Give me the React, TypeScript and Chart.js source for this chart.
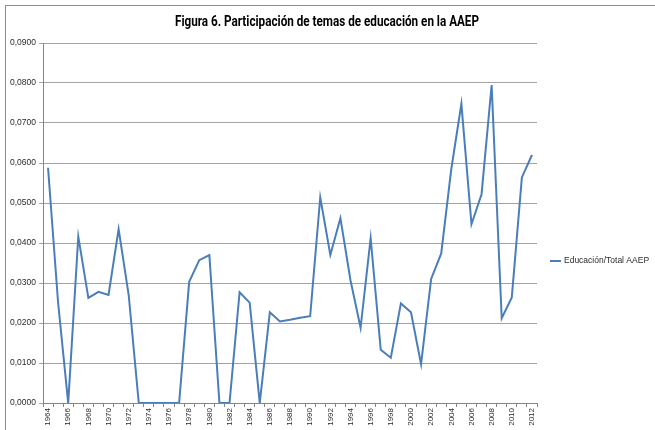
import React, { useEffect, useRef } from 'react';
import { Chart, registerables } from 'chart.js';

Chart.register(...registerables);

const TITLE = 'Figura 6. Participación de temas de educación en la AAEP';
const SERIES_LABEL = 'Educación/Total AAEP';

const years = [
  '1964', '1965', '1966', '1967', '1968', '1969', '1970', '1971', '1972', '1973',
  '1974', '1975', '1976', '1977', '1978', '1979', '1980', '1981', '1982', '1983',
  '1984', '1985', '1986', '1987', '1988', '1989', '1990', '1991', '1992', '1993',
  '1994', '1995', '1996', '1997', '1998', '1999', '2000', '2001', '2002', '2003',
  '2004', '2005', '2006', '2007', '2008', '2009', '2010', '2011', '2012',
];

const educacion = [
  0.0588, 0.0250, 0.0000, 0.0416, 0.0263, 0.0278, 0.0270, 0.0435, 0.0270, 0.0000,
  0.0000, 0.0000, 0.0000, 0.0000, 0.0303, 0.0357, 0.0370, 0.0000, 0.0000, 0.0277,
  0.0251, 0.0000, 0.0227, 0.0204, 0.0208, 0.0213, 0.0217, 0.0514, 0.0370, 0.0462,
  0.0307, 0.0188, 0.0412, 0.0133, 0.0113, 0.0249, 0.0227, 0.0097, 0.0310, 0.0374,
  0.0585, 0.0748, 0.0447, 0.0522, 0.0795, 0.0212, 0.0264, 0.0564, 0.0620,
];

const yMin = 0;
const yMax = 0.09;
const yStep = 0.01;

const LINE_COLOR = '#4a7ebb';
const TEXT_COLOR = '#2b2b2b';
const FONT = "'Liberation Sans', Arial, sans-serif";

const titleLegendPlugin = {
  id: 'titleLegend',
  afterDraw(chart: any) {
    const ctx = chart.ctx;
    ctx.save();
    ctx.fillStyle = '#000000';
    ctx.font = "bold 14.5px Roboto, 'Liberation Sans', sans-serif";
    ctx.textAlign = 'center';
    ctx.textBaseline = 'middle';
    const w = ctx.measureText(TITLE).width;
    const sx = Math.min(1, 304 / w);
    ctx.translate(327, 22);
    ctx.scale(sx, 1);
    ctx.fillText(TITLE, 0, 0);
    ctx.restore();

    ctx.save();
    const ly = 261;
    ctx.strokeStyle = LINE_COLOR;
    ctx.lineWidth = 2;
    ctx.beginPath();
    ctx.moveTo(550, ly);
    ctx.lineTo(561, ly);
    ctx.stroke();
    ctx.fillStyle = TEXT_COLOR;
    ctx.font = `8.5px ${FONT}`;
    ctx.textAlign = 'left';
    ctx.textBaseline = 'middle';
    ctx.fillText(SERIES_LABEL, 564, ly);
    ctx.restore();
  },
};

export default function App() {
  const ref = useRef<HTMLCanvasElement | null>(null);

  useEffect(() => {
    document.body.style.margin = '0';
    const canvas = ref.current;
    if (!canvas) return;
    const chart = new Chart(canvas, {
      type: 'line',
      data: {
        labels: years,
        datasets: [
          {
            label: SERIES_LABEL,
            data: educacion,
            borderColor: LINE_COLOR,
            backgroundColor: LINE_COLOR,
            borderWidth: 2,
            pointRadius: 0,
            tension: 0,
            fill: false,
          },
        ],
      },
      options: {
        responsive: false,
        animation: false,
        devicePixelRatio: 1,
        layout: { padding: { left: 0, top: 43, right: 118, bottom: 0 } },
        plugins: {
          legend: { display: false },
          title: { display: false },
          tooltip: { enabled: false },
        },
        scales: {
          x: {
            type: 'category',
            offset: true,
            grid: {
              offset: true,
              drawOnChartArea: false,
              drawTicks: true,
              tickLength: 4,
              color: '#868686',
            },
            border: { color: '#868686', width: 1 },
            ticks: {
              autoSkip: false,
              maxRotation: 90,
              minRotation: 90,
              padding: 1,
              color: TEXT_COLOR,
              font: { family: FONT, size: 8 },
              callback: (_v: any, i: number) => (i % 2 === 0 ? years[i] : ''),
            },
            afterFit: (s: any) => {
              s.height = 27;
            },
          },
          y: {
            min: yMin,
            max: yMax,
            grid: { color: '#a3a3a3', lineWidth: 1, drawTicks: true, tickLength: 4 },
            border: { color: '#868686', width: 1 },
            ticks: {
              stepSize: yStep,
              padding: 3,
              color: TEXT_COLOR,
              font: { family: FONT, size: 8.5 },
              callback: (v: any) => (Math.round(Number(v) * 10000) / 10000).toFixed(4).replace('.', ','),
            },
            afterFit: (s: any) => {
              s.width = 43;
            },
          },
        },
      },
      plugins: [titleLegendPlugin],
    });
    return () => chart.destroy();
  }, []);

  return (
    <div style={{ position: 'fixed', left: 0, top: 0, width: 655, height: 430, background: '#ffffff' }}>
      <div
        style={{
          position: 'absolute',
          left: 5,
          top: 5,
          right: 0,
          bottom: 0,
          borderLeft: '1px solid #8c8c8c',
          borderTop: '1px solid #8c8c8c',
        }}
      />
      <canvas ref={ref} width={655} height={430} style={{ position: 'absolute', left: 0, top: 0 }} />
    </div>
  );
}
